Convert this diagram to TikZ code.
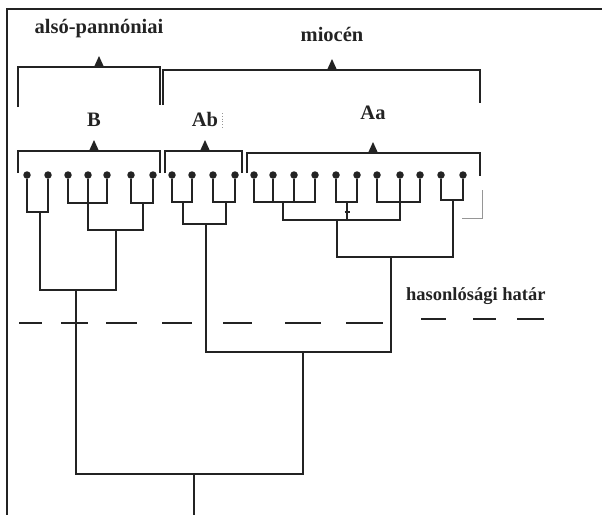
\documentclass[tikz,border=0pt]{standalone}
\usepackage{fontspec}
\setmainfont{Liberation Serif}
\usetikzlibrary{calc}
\definecolor{tinta}{RGB}{35,35,35}
\definecolor{halvany}{RGB}{150,150,150}

\tikzset{
  leaf/.style={circle, fill=tinta, inner sep=0pt, minimum size=7.5pt},
  ag/.style={line width=1.1pt, draw=tinta},
  zarojel/.style={line width=1.2pt, draw=tinta},
  szaggatott/.style={line width=1.8pt, draw=tinta},
  cimke/.style={font=\bfseries\fontsize{20.5}{24}\selectfont, text=tinta, inner sep=0pt},
}

\begin{document}
\begin{tikzpicture}[x=1pt, y=-1pt]
    \useasboundingbox (0,0) rectangle (602,515);
    \draw[line width=1.5pt, tinta] (602,9) -- (7,9) -- (7,515);

    % levelek
    \foreach \x [count=\i] in {27,48,68,88,107,131,153,172,192,213,235,254,273,294,315,336,357,377,400,420,441,463}
        \node[leaf] (l\i) at (\x,175) {};

    \foreach \n/\x/\y in {b1/40/212, b2/88/203, b3/143/203, b4/116/230, b/76/290,
        ab1/183/202, ab2/226/202, ab/206/224,
        aa1/283/202, aa2/347/202, aa3/400/202, aa4/337/220, aa5/453/200, aa/391/257,
        a/303/352, gyoker/194/474}
        \coordinate (\n) at (\x,\y);
    \coordinate (alj) at (194,515);

    % B
    \draw[ag] (l1) |- (b1) -| (l2);
    \draw[ag] (l3) |- (b2) -| (l5);
    \draw[ag] (l4) -- (b2);
    \draw[ag] (l6) |- (b3) -| (l7);
    \draw[ag] (b2) |- (b4) -| (b3);
    \draw[ag] (b1) |- (b) -| (b4);
    % Ab
    \draw[ag] (l8) |- (ab1) -| (l9);
    \draw[ag] (l10) |- (ab2) -| (l11);
    \draw[ag] (ab1) |- (ab) -| (ab2);
    % Aa
    \draw[ag] (l12) |- (aa1) -| (l15);
    \draw[ag] (l13) -- (l13 |- aa1);
    \draw[ag] (l14) -- (l14 |- aa1);
    \draw[ag] (l16) |- (aa2) -| (l17);
    \draw[ag] (l18) |- (aa3) -| (l20);
    \draw[ag] (l19) -- (aa3);
    \draw[ag] (aa1) |- (aa4) -| (aa3);
    \draw[ag] (aa2) -- (aa2 |- aa4);
    \draw[ag] (344.5,212) -- (349.5,212);
    \draw[ag] (l21) |- (aa5) -| (l22);
    \draw[ag] (aa4) |- (aa) -| (aa5);
    % gyoker
    \draw[ag] (ab) |- (a) -| (aa);
    \draw[ag] (b) |- (gyoker) -| (a);
    \draw[ag] (gyoker) -- (alj);

    % zarojelek
    \foreach \xa/\xb/\yv/\yl/\yr/\xp/\yt/\szoveg [count=\k] in {
        18/160/67/107/105/99/33/{alsó-pannóniai},
        163/480/70/105/103/332/41/{miocén},
        18/160/151/173/173/94/126/B,
        165/242/151/173/173/205/126/Ab,
        247/480/153/173/176/373/119/Aa}
    {
        \draw[zarojel] (\xa,\yl) -- (\xa,\yv) -- (\xb,\yv) -- (\xb,\yr);
        \fill[tinta] (\xp-5,\yv) -- (\xp,\yv-11) -- (\xp+5,\yv) -- cycle;
        \node[cimke, anchor=base] (cimke\k) at (\xp,\yt) {\szoveg};
    }
    \draw[halvany, line width=0.8pt] (482,190) -- (482,218) -- (462,218);
    \draw[halvany, dotted, line width=0.8pt] (222,113) -- (222,128);

    % hasonlosagi hatar
    \node[cimke, font=\bfseries\fontsize{18.5}{22}\selectfont, anchor=base west] (hatar) at (406,300) {hasonlósági határ};
    \foreach \xa/\xb/\y in {19/42/323, 61/88/323, 106/137/323, 162/192/323, 223/252/323,
        285/321/323, 346/383/323, 421/446/319, 473/496/319, 517/544/319}
        \draw[szaggatott] (\xa,\y) -- (\xb,\y);
\end{tikzpicture}
\end{document}
